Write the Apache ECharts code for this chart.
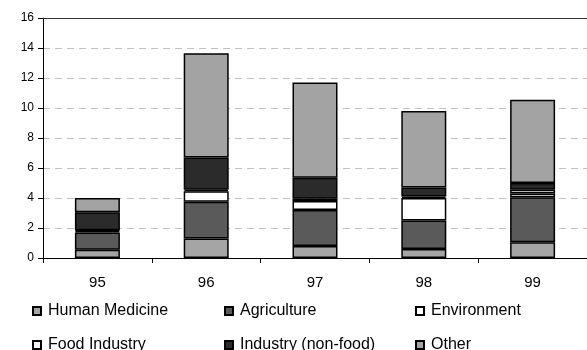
<!DOCTYPE html>
<html>
<head>
<meta charset="utf-8">
<script src="https://cdn.jsdelivr.net/npm/echarts@6/dist/echarts.min.js"></script>
<style>
  html, body { margin: 0; padding: 0; background: #fff; }
  #chart { width: 587px; height: 350px; }
</style>
</head>
<body>
<div id="chart"></div>
<script>
// years on the x axis
var years = ['95', '96', '97', '98', '99']
// stacked from bottom to top
var humanMedicine = [0.55, 1.3, 0.8, 0.6, 1.05]
var agriculture = [1.15, 2.45, 2.4, 1.9, 3.0]
var environment = [0.1, 0.7, 0.6, 1.5, 0.25]
var foodIndustry = [0.05, 0.1, 0.15, 0.1, 0.25]
var industryNonFood = [1.2, 2.15, 1.4, 0.6, 0.45]
var other = [0.95, 6.95, 6.35, 5.1, 5.55]
var yTicks = { min: 0, max: 16, step: 2 }

var font = '"Liberation Sans", Arial, sans-serif'

function bar(name, data, color) {
  return {
    name: name,
    type: 'bar',
    stack: 'total',
    barWidth: 45,
    data: data,
    itemStyle: {
      color: color,
      borderColor: '#000',
      borderWidth: 1.5,
    },
  }
}

// one legend per entry so the two rows line up in three columns
function legendItem(left, top, name) {
  return {
    left: left,
    top: top,
    padding: 0,
    itemWidth: 8,
    itemHeight: 8,
    itemGap: 0,
    icon: 'rect',
    textStyle: { fontFamily: font, fontSize: 16, color: '#000', padding: [0, 0, 0, 2] },
    data: [name],
  }
}

var charts = echarts.init(document.getElementById('chart'))
var option = {
  animation: false,
  backgroundColor: '#fff',
  textStyle: { fontFamily: font },
  grid: { left: 43, right: -11, top: 18, bottom: 92 },
  legend: [
    legendItem(32, 303, 'Human Medicine'),
    legendItem(224, 303, 'Agriculture'),
    legendItem(415, 303, 'Environment'),
    legendItem(32, 337, 'Food Industry'),
    legendItem(224, 337, 'Industry (non-food)'),
    legendItem(415, 337, 'Other'),
  ],
  xAxis: [
    {
      type: 'category',
      data: years,
      axisLine: { lineStyle: { color: '#000', width: 1 } },
      axisTick: { show: true, length: 5, lineStyle: { color: '#000' } },
      axisLabel: { color: '#000', fontSize: 15, margin: 17, fontFamily: font },
    },
    {
      // solid border along the top of the plot
      type: 'category',
      position: 'top',
      data: years,
      axisLine: { show: true, lineStyle: { color: '#333', width: 1 } },
      axisTick: { show: false },
      axisLabel: { show: false },
    },
  ],
  yAxis: {
    type: 'value',
    min: yTicks.min,
    max: yTicks.max,
    interval: yTicks.step,
    axisLine: { show: true, lineStyle: { color: '#000', width: 1 } },
    axisTick: { show: true, length: 5, lineStyle: { color: '#000' } },
    axisLabel: { color: '#000', fontSize: 12, margin: 9, fontFamily: font },
    splitLine: {
      show: true,
      lineStyle: { type: [7, 5], color: '#c0c0c0', width: 1 },
    },
  },
  series: [
    bar('Human Medicine', humanMedicine, '#a5a5a5'),
    bar('Agriculture', agriculture, '#5a5a5a'),
    bar('Environment', environment, '#ffffff'),
    bar('Food Industry', foodIndustry, '#f4f4f4'),
    bar('Industry (non-food)', industryNonFood, '#2b2b2b'),
    bar('Other', other, '#a3a3a3'),
  ],
}
charts.setOption(option)
</script>
</body>
</html>
